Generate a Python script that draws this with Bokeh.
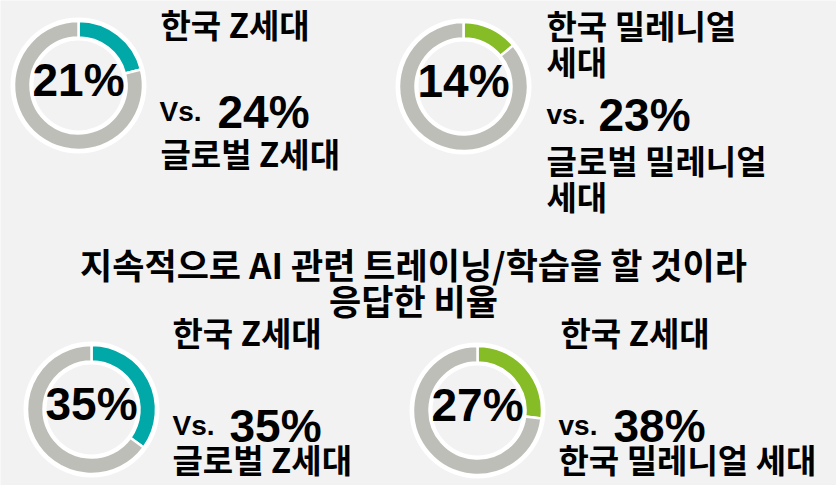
import numpy as np
from bokeh.plotting import figure
from bokeh.models import Range1d, ColumnDataSource
from bokeh.core.properties import value
from bokeh.embed import file_html
from bokeh.resources import INLINE

# ---------------- data ----------------
title_lines = ["지속적으로 AI 관련 트레이닝/학습을 할 것이라", "응답한 비율"]
panel_labels = ["한국 Z세대", "한국 밀레니얼\n세대", "한국 Z세대", "한국 Z세대"]
korea_pct = [21, 14, 35, 27]
vs_words = ["Vs.", "vs.", "Vs.", "vs."]
compare_pct = [24, 23, 35, 38]
compare_labels = ["글로벌 Z세대", "글로벌 밀레니얼\n세대", "글로벌 Z세대", "한국 밀레니얼 세대"]
accent_colors = ["#00A8A8", "#86BC25", "#00A8A8", "#86BC25"]

# ---------------- layout (image pixel coordinates) ----------------
W, H = 836, 485
SHIFT_BASE = 17   # renderer places alphabetic text lower than requested
SHIFT_MID = 6

def Y(v):
    return H - v

donut_cx = [78, 463, 91, 477]
donut_cy = [85, 86, 409, 410]
label_x = [160, 546, 172, 560]
label_base = [40, 41, 348, 348]
vs_x = [159, 546, 172, 558]
pct_x = [217, 598, 229, 613]
vs_base = [128, 131, 442, 442]
cmp_x = [160, 546, 172, 558]
cmp_base = [169, 176, 475, 475]
LINE = 36
title_cx = 413
title_base = [280, 316]

GRAY = "#BEBEB9"
BG = "#F2F2F2"
KO = value("Noto Sans CJK KR")
LAT = value("Liberation Sans")

p = figure(width=W, height=H, x_range=Range1d(0, W), y_range=Range1d(0, H),
           output_backend="svg", toolbar_location=None, min_border=0,
           background_fill_color=BG, border_fill_color=BG, outline_line_color=None)
p.axis.visible = False
p.grid.visible = False

# donuts
cx = donut_cx
cy = [Y(v) for v in donut_cy]
p.annulus(x=cx, y=cy, inner_radius=45, outer_radius=68, fill_color="white", line_color=None)
start = np.pi / 2
ends = [start - 2 * np.pi * v / 100 for v in korea_pct]
p.annular_wedge(x=cx, y=cy, inner_radius=48, outer_radius=64.5, start_angle=start,
                end_angle=ends, direction="clock", fill_color=accent_colors,
                line_color="white", line_width=2.5)
p.annular_wedge(x=cx, y=cy, inner_radius=48, outer_radius=64.5, start_angle=ends,
                end_angle=start - 2 * np.pi, direction="clock", fill_color=GRAY,
                line_color="white", line_width=2.5)

# centre percentages
p.text(x=cx, y=[Y(v - SHIFT_MID) for v in donut_cy], text=[f"{v}%" for v in korea_pct],
       text_font=LAT, text_font_style="bold", text_font_size="46px", text_align="center",
       text_baseline="middle", text_color="black")

def multiline(xs, bases, texts):
    ox, oy, ot = [], [], []
    for x0, b, t in zip(xs, bases, texts):
        for i, line in enumerate(t.split("\n")):
            ox.append(x0); oy.append(Y(b + i * LINE - SHIFT_BASE)); ot.append(line)
    return ColumnDataSource(dict(x=ox, y=oy, text=ot))

ko_kw = dict(text_font=KO, text_font_style="bold", text_baseline="alphabetic", text_color="black")

p.text(x="x", y="y", text="text", source=multiline(label_x, label_base, panel_labels),
       text_align="left", text_font_size="33px", **ko_kw)
p.text(x="x", y="y", text="text", source=multiline(cmp_x, cmp_base, compare_labels),
       text_align="left", text_font_size="33px", **ko_kw)
p.text(x=[title_cx] * len(title_lines), y=[Y(b - SHIFT_BASE) for b in title_base],
       text=title_lines, text_align="center", text_font_size="35px", **ko_kw)

# vs. + comparison percentages
vs_y = [Y(b - SHIFT_BASE) for b in vs_base]
p.text(x=vs_x, y=vs_y, text=vs_words, text_font=LAT, text_font_style="bold",
       text_font_size="28px", text_align="left", text_baseline="alphabetic", text_color="black")
p.text(x=pct_x, y=vs_y, text=[f"{v}%" for v in compare_pct], text_font=LAT,
       text_font_style="bold", text_font_size="46px", text_align="left",
       text_baseline="alphabetic", text_color="black")

open("out.html", "w").write(file_html(p, INLINE))
